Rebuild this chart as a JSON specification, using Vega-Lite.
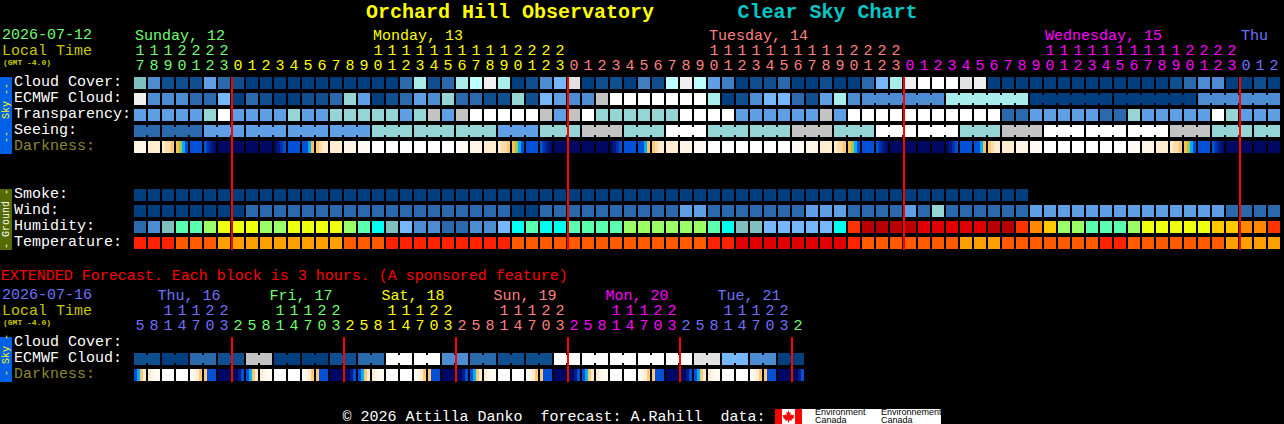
{"$schema":"https://vega.github.io/schema/vega-lite/v6.json",
"width":1284,"height":424,"padding":0,"autosize":{"type":"fit","contains":"padding"},"background":"#000000",
"config":{"view":{"stroke":null},"axis":{"disable":true},"text":{"font":"Liberation Mono","fontSize":15,"baseline":"middle"}},
"datasets":{
"cells":[
{"row":"Cloud","slot":0,"level":"c6"},{"row":"Cloud","slot":1,"level":"c3"},{"row":"Cloud","slot":2,"level":"c1"},{"row":"Cloud","slot":3,"level":"c1"},{"row":"Cloud","slot":4,"level":"c1"},{"row":"Cloud","slot":5,"level":"c4"},{"row":"Cloud","slot":6,"level":"c2"},{"row":"Cloud","slot":7,"level":"c1"},{"row":"Cloud","slot":8,"level":"c0"},{"row":"Cloud","slot":9,"level":"c0"},
{"row":"Cloud","slot":10,"level":"c0"},{"row":"Cloud","slot":11,"level":"c0"},{"row":"Cloud","slot":12,"level":"c0"},{"row":"Cloud","slot":13,"level":"c0"},{"row":"Cloud","slot":14,"level":"c0"},{"row":"Cloud","slot":15,"level":"c0"},{"row":"Cloud","slot":16,"level":"c0"},{"row":"Cloud","slot":17,"level":"c0"},{"row":"Cloud","slot":18,"level":"c0"},{"row":"Cloud","slot":19,"level":"c2"},
{"row":"Cloud","slot":20,"level":"c8"},{"row":"Cloud","slot":21,"level":"c1"},{"row":"Cloud","slot":22,"level":"c2"},{"row":"Cloud","slot":23,"level":"c8"},{"row":"Cloud","slot":24,"level":"c9"},{"row":"Cloud","slot":25,"level":"c12"},{"row":"Cloud","slot":26,"level":"c8"},{"row":"Cloud","slot":27,"level":"c0"},{"row":"Cloud","slot":28,"level":"c1"},{"row":"Cloud","slot":29,"level":"c3"},
{"row":"Cloud","slot":30,"level":"c5"},{"row":"Cloud","slot":31,"level":"c11"},{"row":"Cloud","slot":32,"level":"c0"},{"row":"Cloud","slot":33,"level":"c1"},{"row":"Cloud","slot":34,"level":"c1"},{"row":"Cloud","slot":35,"level":"c0"},{"row":"Cloud","slot":36,"level":"c14"},{"row":"Cloud","slot":37,"level":"c1"},{"row":"Cloud","slot":38,"level":"c9"},{"row":"Cloud","slot":39,"level":"c12"},
{"row":"Cloud","slot":40,"level":"c9"},{"row":"Cloud","slot":41,"level":"c4"},{"row":"Cloud","slot":42,"level":"c14"},{"row":"Cloud","slot":43,"level":"c0"},{"row":"Cloud","slot":44,"level":"c1"},{"row":"Cloud","slot":45,"level":"c1"},{"row":"Cloud","slot":46,"level":"c2"},{"row":"Cloud","slot":47,"level":"c0"},{"row":"Cloud","slot":48,"level":"c0"},{"row":"Cloud","slot":49,"level":"c1"},
{"row":"Cloud","slot":50,"level":"c0"},{"row":"Cloud","slot":51,"level":"c0"},{"row":"Cloud","slot":52,"level":"c2"},{"row":"Cloud","slot":53,"level":"c5"},{"row":"Cloud","slot":54,"level":"c8"},{"row":"Cloud","slot":55,"level":"c12"},{"row":"Cloud","slot":56,"level":"c13"},{"row":"Cloud","slot":57,"level":"c13"},{"row":"Cloud","slot":58,"level":"c13"},{"row":"Cloud","slot":59,"level":"c11"},
{"row":"Cloud","slot":60,"level":"c12"},{"row":"Cloud","slot":61,"level":"c0"},{"row":"Cloud","slot":62,"level":"c0"},{"row":"Cloud","slot":63,"level":"c0"},{"row":"Cloud","slot":64,"level":"c0"},{"row":"Cloud","slot":65,"level":"c0"},{"row":"Cloud","slot":66,"level":"c0"},{"row":"Cloud","slot":67,"level":"c0"},{"row":"Cloud","slot":68,"level":"c0"},{"row":"Cloud","slot":69,"level":"c0"},
{"row":"Cloud","slot":70,"level":"c0"},{"row":"Cloud","slot":71,"level":"c0"},{"row":"Cloud","slot":72,"level":"c0"},{"row":"Cloud","slot":73,"level":"c0"},{"row":"Cloud","slot":74,"level":"c1"},{"row":"Cloud","slot":75,"level":"c2"},{"row":"Cloud","slot":76,"level":"c3"},{"row":"Cloud","slot":77,"level":"c3"},{"row":"Cloud","slot":78,"level":"c0"},{"row":"Cloud","slot":79,"level":"c0"},{"row":"Cloud","slot":80,"level":"c1"},{"row":"Cloud","slot":81,"level":"c0"},
{"row":"ECMWF","slot":0,"level":"c12"},{"row":"ECMWF","slot":1,"level":"c3"},{"row":"ECMWF","slot":2,"level":"c3"},{"row":"ECMWF","slot":3,"level":"c3"},{"row":"ECMWF","slot":4,"level":"c2"},{"row":"ECMWF","slot":5,"level":"c2"},{"row":"ECMWF","slot":6,"level":"c5"},{"row":"ECMWF","slot":7,"level":"c0"},{"row":"ECMWF","slot":8,"level":"c2"},{"row":"ECMWF","slot":9,"level":"c1"},
{"row":"ECMWF","slot":10,"level":"c0"},{"row":"ECMWF","slot":11,"level":"c0"},{"row":"ECMWF","slot":12,"level":"c1"},{"row":"ECMWF","slot":13,"level":"c1"},{"row":"ECMWF","slot":14,"level":"c2"},{"row":"ECMWF","slot":15,"level":"c7"},{"row":"ECMWF","slot":16,"level":"c4"},{"row":"ECMWF","slot":17,"level":"c0"},{"row":"ECMWF","slot":18,"level":"c1"},{"row":"ECMWF","slot":19,"level":"c2"},
{"row":"ECMWF","slot":20,"level":"c4"},{"row":"ECMWF","slot":21,"level":"c3"},{"row":"ECMWF","slot":22,"level":"c7"},{"row":"ECMWF","slot":23,"level":"c2"},{"row":"ECMWF","slot":24,"level":"c2"},{"row":"ECMWF","slot":25,"level":"c1"},{"row":"ECMWF","slot":26,"level":"c1"},{"row":"ECMWF","slot":27,"level":"c7"},{"row":"ECMWF","slot":28,"level":"c1"},{"row":"ECMWF","slot":29,"level":"c5"},
{"row":"ECMWF","slot":30,"level":"c4"},{"row":"ECMWF","slot":31,"level":"c3"},{"row":"ECMWF","slot":32,"level":"c3"},{"row":"ECMWF","slot":33,"level":"c10"},{"row":"ECMWF","slot":34,"level":"c13"},{"row":"ECMWF","slot":35,"level":"c13"},{"row":"ECMWF","slot":36,"level":"c13"},{"row":"ECMWF","slot":37,"level":"c13"},{"row":"ECMWF","slot":38,"level":"c13"},{"row":"ECMWF","slot":39,"level":"c13"},
{"row":"ECMWF","slot":40,"level":"c13"},{"row":"ECMWF","slot":41,"level":"c8"},{"row":"ECMWF","slot":42,"level":"c0"},{"row":"ECMWF","slot":43,"level":"c1"},{"row":"ECMWF","slot":44,"level":"c3"},{"row":"ECMWF","slot":45,"level":"c5"},{"row":"ECMWF","slot":46,"level":"c5"},{"row":"ECMWF","slot":47,"level":"c2"},{"row":"ECMWF","slot":48,"level":"c1"},{"row":"ECMWF","slot":49,"level":"c4"},
{"row":"ECMWF","slot":50,"level":"c8"},{"row":"ECMWF","slot":51,"level":"c3"},{"row":"ECMWF","slot":52,"level":"c3","link":1},{"row":"ECMWF","slot":53,"level":"c3","link":1},{"row":"ECMWF","slot":54,"level":"c3","link":1},{"row":"ECMWF","slot":55,"level":"c3","link":1},{"row":"ECMWF","slot":56,"level":"c3","link":1},{"row":"ECMWF","slot":57,"level":"c3"},
{"row":"ECMWF","slot":58,"level":"c8","link":1},{"row":"ECMWF","slot":59,"level":"c8","link":1},{"row":"ECMWF","slot":60,"level":"c8","link":1},{"row":"ECMWF","slot":61,"level":"c8","link":1},{"row":"ECMWF","slot":62,"level":"c8","link":1},{"row":"ECMWF","slot":63,"level":"c8"},
{"row":"ECMWF","slot":64,"level":"c0","link":1},{"row":"ECMWF","slot":65,"level":"c0","link":1},{"row":"ECMWF","slot":66,"level":"c0","link":1},{"row":"ECMWF","slot":67,"level":"c0","link":1},{"row":"ECMWF","slot":68,"level":"c0","link":1},{"row":"ECMWF","slot":69,"level":"c0"},
{"row":"ECMWF","slot":70,"level":"c0","link":1},{"row":"ECMWF","slot":71,"level":"c0","link":1},{"row":"ECMWF","slot":72,"level":"c0","link":1},{"row":"ECMWF","slot":73,"level":"c0","link":1},{"row":"ECMWF","slot":74,"level":"c0","link":1},{"row":"ECMWF","slot":75,"level":"c0"},
{"row":"ECMWF","slot":76,"level":"c3","link":1},{"row":"ECMWF","slot":77,"level":"c3","link":1},{"row":"ECMWF","slot":78,"level":"c3","link":1},{"row":"ECMWF","slot":79,"level":"c3","link":1},{"row":"ECMWF","slot":80,"level":"c3","link":1},{"row":"ECMWF","slot":81,"level":"c3"},
{"row":"Transp","slot":0,"level":"c4"},{"row":"Transp","slot":1,"level":"c4"},{"row":"Transp","slot":2,"level":"c4"},{"row":"Transp","slot":3,"level":"c4"},{"row":"Transp","slot":4,"level":"c4"},{"row":"Transp","slot":5,"level":"c7"},{"row":"Transp","slot":6,"level":"c13"},{"row":"Transp","slot":7,"level":"c4"},{"row":"Transp","slot":8,"level":"c4"},{"row":"Transp","slot":9,"level":"c4"},
{"row":"Transp","slot":10,"level":"c4"},{"row":"Transp","slot":11,"level":"c7"},{"row":"Transp","slot":12,"level":"c4"},{"row":"Transp","slot":13,"level":"c4"},{"row":"Transp","slot":14,"level":"c7"},{"row":"Transp","slot":15,"level":"c7"},{"row":"Transp","slot":16,"level":"c7"},{"row":"Transp","slot":17,"level":"c7"},{"row":"Transp","slot":18,"level":"c7"},{"row":"Transp","slot":19,"level":"c4"},
{"row":"Transp","slot":20,"level":"c7"},{"row":"Transp","slot":21,"level":"c10"},{"row":"Transp","slot":22,"level":"c4"},{"row":"Transp","slot":23,"level":"c10"},{"row":"Transp","slot":24,"level":"c13"},{"row":"Transp","slot":25,"level":"c13"},{"row":"Transp","slot":26,"level":"c13"},{"row":"Transp","slot":27,"level":"c13"},{"row":"Transp","slot":28,"level":"c13"},{"row":"Transp","slot":29,"level":"c10"},
{"row":"Transp","slot":30,"level":"c4"},{"row":"Transp","slot":31,"level":"c10"},{"row":"Transp","slot":32,"level":"c13"},{"row":"Transp","slot":33,"level":"c7"},{"row":"Transp","slot":34,"level":"c7"},{"row":"Transp","slot":35,"level":"c7"},{"row":"Transp","slot":36,"level":"c7"},{"row":"Transp","slot":37,"level":"c7"},{"row":"Transp","slot":38,"level":"c7"},{"row":"Transp","slot":39,"level":"c13"},
{"row":"Transp","slot":40,"level":"c13"},{"row":"Transp","slot":41,"level":"c13"},{"row":"Transp","slot":42,"level":"c13"},{"row":"Transp","slot":43,"level":"c4"},{"row":"Transp","slot":44,"level":"c4"},{"row":"Transp","slot":45,"level":"c4"},{"row":"Transp","slot":46,"level":"c4"},{"row":"Transp","slot":47,"level":"c4"},{"row":"Transp","slot":48,"level":"c4"},{"row":"Transp","slot":49,"level":"c10"},
{"row":"Transp","slot":50,"level":"c4"},{"row":"Transp","slot":51,"level":"c13"},{"row":"Transp","slot":52,"level":"c13"},{"row":"Transp","slot":53,"level":"c13"},{"row":"Transp","slot":54,"level":"c13"},{"row":"Transp","slot":55,"level":"c13"},{"row":"Transp","slot":56,"level":"c13"},{"row":"Transp","slot":57,"level":"c13"},{"row":"Transp","slot":58,"level":"c13"},{"row":"Transp","slot":59,"level":"c13"},
{"row":"Transp","slot":60,"level":"c13"},{"row":"Transp","slot":61,"level":"c13"},{"row":"Transp","slot":62,"level":"c2"},{"row":"Transp","slot":63,"level":"c2"},{"row":"Transp","slot":64,"level":"c4"},{"row":"Transp","slot":65,"level":"c4"},{"row":"Transp","slot":66,"level":"c4"},{"row":"Transp","slot":67,"level":"c4"},{"row":"Transp","slot":68,"level":"c4"},{"row":"Transp","slot":69,"level":"c2"},
{"row":"Transp","slot":70,"level":"c2"},{"row":"Transp","slot":71,"level":"c7"},{"row":"Transp","slot":72,"level":"c4"},{"row":"Transp","slot":73,"level":"c4"},{"row":"Transp","slot":74,"level":"c4"},{"row":"Transp","slot":75,"level":"c4"},{"row":"Transp","slot":76,"level":"c4"},{"row":"Transp","slot":77,"level":"c13"},{"row":"Transp","slot":78,"level":"c7"},{"row":"Transp","slot":79,"level":"c4"},{"row":"Transp","slot":80,"level":"c4"},{"row":"Transp","slot":81,"level":"c4"},
{"row":"Seeing","slot":0,"level":"c2","link":1},{"row":"Seeing","slot":1,"level":"c2"},{"row":"Seeing","slot":2,"level":"c2","link":1},{"row":"Seeing","slot":3,"level":"c2","link":1},{"row":"Seeing","slot":4,"level":"c2"},{"row":"Seeing","slot":5,"level":"c4","link":1},{"row":"Seeing","slot":6,"level":"c4","link":1},{"row":"Seeing","slot":7,"level":"c4"},{"row":"Seeing","slot":8,"level":"c4","link":1},{"row":"Seeing","slot":9,"level":"c4","link":1},{"row":"Seeing","slot":10,"level":"c4"},
{"row":"Seeing","slot":11,"level":"c4","link":1},{"row":"Seeing","slot":12,"level":"c4","link":1},{"row":"Seeing","slot":13,"level":"c4"},{"row":"Seeing","slot":14,"level":"c4","link":1},{"row":"Seeing","slot":15,"level":"c4","link":1},{"row":"Seeing","slot":16,"level":"c4"},{"row":"Seeing","slot":17,"level":"c7","link":1},{"row":"Seeing","slot":18,"level":"c7","link":1},{"row":"Seeing","slot":19,"level":"c7"},
{"row":"Seeing","slot":20,"level":"c7","link":1},{"row":"Seeing","slot":21,"level":"c7","link":1},{"row":"Seeing","slot":22,"level":"c7"},{"row":"Seeing","slot":23,"level":"c7","link":1},{"row":"Seeing","slot":24,"level":"c7","link":1},{"row":"Seeing","slot":25,"level":"c7"},{"row":"Seeing","slot":26,"level":"c4","link":1},{"row":"Seeing","slot":27,"level":"c4","link":1},{"row":"Seeing","slot":28,"level":"c4"},
{"row":"Seeing","slot":29,"level":"c7","link":1},{"row":"Seeing","slot":30,"level":"c7","link":1},{"row":"Seeing","slot":31,"level":"c7"},{"row":"Seeing","slot":32,"level":"c10","link":1},{"row":"Seeing","slot":33,"level":"c10","link":1},{"row":"Seeing","slot":34,"level":"c10"},{"row":"Seeing","slot":35,"level":"c7","link":1},{"row":"Seeing","slot":36,"level":"c7","link":1},{"row":"Seeing","slot":37,"level":"c7"},
{"row":"Seeing","slot":38,"level":"c13","link":1},{"row":"Seeing","slot":39,"level":"c13","link":1},{"row":"Seeing","slot":40,"level":"c13"},{"row":"Seeing","slot":41,"level":"c7","link":1},{"row":"Seeing","slot":42,"level":"c7","link":1},{"row":"Seeing","slot":43,"level":"c7"},{"row":"Seeing","slot":44,"level":"c7","link":1},{"row":"Seeing","slot":45,"level":"c7","link":1},{"row":"Seeing","slot":46,"level":"c7"},
{"row":"Seeing","slot":47,"level":"c10","link":1},{"row":"Seeing","slot":48,"level":"c10","link":1},{"row":"Seeing","slot":49,"level":"c10"},{"row":"Seeing","slot":50,"level":"c7","link":1},{"row":"Seeing","slot":51,"level":"c7","link":1},{"row":"Seeing","slot":52,"level":"c7"},{"row":"Seeing","slot":53,"level":"c13","link":1},{"row":"Seeing","slot":54,"level":"c13","link":1},{"row":"Seeing","slot":55,"level":"c13"},
{"row":"Seeing","slot":56,"level":"c13","link":1},{"row":"Seeing","slot":57,"level":"c13","link":1},{"row":"Seeing","slot":58,"level":"c13"},{"row":"Seeing","slot":59,"level":"c7","link":1},{"row":"Seeing","slot":60,"level":"c7","link":1},{"row":"Seeing","slot":61,"level":"c7"},{"row":"Seeing","slot":62,"level":"c10","link":1},{"row":"Seeing","slot":63,"level":"c10","link":1},{"row":"Seeing","slot":64,"level":"c10"},
{"row":"Seeing","slot":65,"level":"c13","link":1},{"row":"Seeing","slot":66,"level":"c13","link":1},{"row":"Seeing","slot":67,"level":"c13"},{"row":"Seeing","slot":68,"level":"c13","link":1},{"row":"Seeing","slot":69,"level":"c13","link":1},{"row":"Seeing","slot":70,"level":"c13"},{"row":"Seeing","slot":71,"level":"c13","link":1},{"row":"Seeing","slot":72,"level":"c13","link":1},{"row":"Seeing","slot":73,"level":"c13"},
{"row":"Seeing","slot":74,"level":"c10","link":1},{"row":"Seeing","slot":75,"level":"c10","link":1},{"row":"Seeing","slot":76,"level":"c10"},{"row":"Seeing","slot":77,"level":"c7","link":1},{"row":"Seeing","slot":78,"level":"c7","link":1},{"row":"Seeing","slot":79,"level":"c7"},{"row":"Seeing","slot":80,"level":"c7","link":1},{"row":"Seeing","slot":81,"level":"c7"},
{"row":"Dark","slot":0,"level":"d2"},{"row":"Dark","slot":1,"level":"d3"},{"row":"Dark","slot":4,"level":"d9"},{"row":"Dark","slot":6,"level":"d13"},{"row":"Dark","slot":7,"level":"d13"},{"row":"Dark","slot":8,"level":"d13"},{"row":"Dark","slot":9,"level":"d13"},{"row":"Dark","slot":11,"level":"d9"},{"row":"Dark","slot":14,"level":"d3"},{"row":"Dark","slot":15,"level":"d2"},{"row":"Dark","slot":16,"level":"d1"},
{"row":"Dark","slot":17,"level":"d0"},{"row":"Dark","slot":18,"level":"d0"},{"row":"Dark","slot":19,"level":"d0"},{"row":"Dark","slot":20,"level":"d0"},{"row":"Dark","slot":21,"level":"d0"},{"row":"Dark","slot":22,"level":"d0"},{"row":"Dark","slot":23,"level":"d1"},{"row":"Dark","slot":24,"level":"d2"},{"row":"Dark","slot":25,"level":"d3"},{"row":"Dark","slot":28,"level":"d9"},{"row":"Dark","slot":30,"level":"d13"},{"row":"Dark","slot":31,"level":"d13"},{"row":"Dark","slot":32,"level":"d13"},{"row":"Dark","slot":33,"level":"d13"},{"row":"Dark","slot":35,"level":"d9"},{"row":"Dark","slot":38,"level":"d3"},{"row":"Dark","slot":39,"level":"d2"},{"row":"Dark","slot":40,"level":"d1"},
{"row":"Dark","slot":41,"level":"d0"},{"row":"Dark","slot":42,"level":"d0"},{"row":"Dark","slot":43,"level":"d0"},{"row":"Dark","slot":44,"level":"d0"},{"row":"Dark","slot":45,"level":"d0"},{"row":"Dark","slot":46,"level":"d0"},{"row":"Dark","slot":47,"level":"d1"},{"row":"Dark","slot":48,"level":"d2"},{"row":"Dark","slot":49,"level":"d3"},{"row":"Dark","slot":52,"level":"d9"},{"row":"Dark","slot":54,"level":"d13"},{"row":"Dark","slot":55,"level":"d13"},{"row":"Dark","slot":56,"level":"d13"},{"row":"Dark","slot":57,"level":"d13"},{"row":"Dark","slot":59,"level":"d9"},{"row":"Dark","slot":62,"level":"d3"},{"row":"Dark","slot":63,"level":"d2"},{"row":"Dark","slot":64,"level":"d1"},
{"row":"Dark","slot":65,"level":"d0"},{"row":"Dark","slot":66,"level":"d0"},{"row":"Dark","slot":67,"level":"d0"},{"row":"Dark","slot":68,"level":"d0"},{"row":"Dark","slot":69,"level":"d0"},{"row":"Dark","slot":70,"level":"d0"},{"row":"Dark","slot":71,"level":"d1"},{"row":"Dark","slot":72,"level":"d2"},{"row":"Dark","slot":73,"level":"d3"},{"row":"Dark","slot":76,"level":"d9"},{"row":"Dark","slot":78,"level":"d13"},{"row":"Dark","slot":79,"level":"d13"},{"row":"Dark","slot":80,"level":"d13"},{"row":"Dark","slot":81,"level":"d13"},
{"row":"Smoke","slot":0,"level":"c0"},{"row":"Smoke","slot":1,"level":"c0"},{"row":"Smoke","slot":2,"level":"c0"},{"row":"Smoke","slot":3,"level":"c0"},{"row":"Smoke","slot":4,"level":"c0"},{"row":"Smoke","slot":5,"level":"c0"},{"row":"Smoke","slot":6,"level":"c0"},{"row":"Smoke","slot":7,"level":"c0"},{"row":"Smoke","slot":8,"level":"c0"},{"row":"Smoke","slot":9,"level":"c0"},
{"row":"Smoke","slot":10,"level":"c0"},{"row":"Smoke","slot":11,"level":"c0"},{"row":"Smoke","slot":12,"level":"c0"},{"row":"Smoke","slot":13,"level":"c0"},{"row":"Smoke","slot":14,"level":"c0"},{"row":"Smoke","slot":15,"level":"c0"},{"row":"Smoke","slot":16,"level":"c0"},{"row":"Smoke","slot":17,"level":"c0"},{"row":"Smoke","slot":18,"level":"c0"},{"row":"Smoke","slot":19,"level":"c0"},
{"row":"Smoke","slot":20,"level":"c0"},{"row":"Smoke","slot":21,"level":"c0"},{"row":"Smoke","slot":22,"level":"c0"},{"row":"Smoke","slot":23,"level":"c0"},{"row":"Smoke","slot":24,"level":"c0"},{"row":"Smoke","slot":25,"level":"c0"},{"row":"Smoke","slot":26,"level":"c0"},{"row":"Smoke","slot":27,"level":"c0"},{"row":"Smoke","slot":28,"level":"c0"},{"row":"Smoke","slot":29,"level":"c0"},
{"row":"Smoke","slot":30,"level":"c0"},{"row":"Smoke","slot":31,"level":"c0"},{"row":"Smoke","slot":32,"level":"c0"},{"row":"Smoke","slot":33,"level":"c0"},{"row":"Smoke","slot":34,"level":"c0"},{"row":"Smoke","slot":35,"level":"c0"},{"row":"Smoke","slot":36,"level":"c0"},{"row":"Smoke","slot":37,"level":"c0"},{"row":"Smoke","slot":38,"level":"c0"},{"row":"Smoke","slot":39,"level":"c0"},
{"row":"Smoke","slot":40,"level":"c0"},{"row":"Smoke","slot":41,"level":"c0"},{"row":"Smoke","slot":42,"level":"c0"},{"row":"Smoke","slot":43,"level":"c0"},{"row":"Smoke","slot":44,"level":"c0"},{"row":"Smoke","slot":45,"level":"c0"},{"row":"Smoke","slot":46,"level":"c0"},{"row":"Smoke","slot":47,"level":"c0"},{"row":"Smoke","slot":48,"level":"c0"},{"row":"Smoke","slot":49,"level":"c0"},
{"row":"Smoke","slot":50,"level":"c0"},{"row":"Smoke","slot":51,"level":"c0"},{"row":"Smoke","slot":52,"level":"c0"},{"row":"Smoke","slot":53,"level":"c0"},{"row":"Smoke","slot":54,"level":"c0"},{"row":"Smoke","slot":55,"level":"c0"},{"row":"Smoke","slot":56,"level":"c0"},{"row":"Smoke","slot":57,"level":"c0"},{"row":"Smoke","slot":58,"level":"c0"},{"row":"Smoke","slot":59,"level":"c0"},
{"row":"Smoke","slot":60,"level":"c0"},{"row":"Smoke","slot":61,"level":"c0"},{"row":"Smoke","slot":62,"level":"c0"},{"row":"Smoke","slot":63,"level":"c0"},
{"row":"Wind","slot":0,"level":"c0"},{"row":"Wind","slot":1,"level":"c0"},{"row":"Wind","slot":2,"level":"c0"},{"row":"Wind","slot":3,"level":"c0"},{"row":"Wind","slot":4,"level":"c0"},{"row":"Wind","slot":5,"level":"c0"},{"row":"Wind","slot":6,"level":"c0"},{"row":"Wind","slot":7,"level":"c0"},{"row":"Wind","slot":8,"level":"c2"},{"row":"Wind","slot":9,"level":"c2"},
{"row":"Wind","slot":10,"level":"c2"},{"row":"Wind","slot":11,"level":"c2"},{"row":"Wind","slot":12,"level":"c2"},{"row":"Wind","slot":13,"level":"c2"},{"row":"Wind","slot":14,"level":"c2"},{"row":"Wind","slot":15,"level":"c2"},{"row":"Wind","slot":16,"level":"c2"},{"row":"Wind","slot":17,"level":"c2"},{"row":"Wind","slot":18,"level":"c2"},{"row":"Wind","slot":19,"level":"c2"},
{"row":"Wind","slot":20,"level":"c2"},{"row":"Wind","slot":21,"level":"c2"},{"row":"Wind","slot":22,"level":"c2"},{"row":"Wind","slot":23,"level":"c2"},{"row":"Wind","slot":24,"level":"c2"},{"row":"Wind","slot":25,"level":"c2"},{"row":"Wind","slot":26,"level":"c2"},{"row":"Wind","slot":27,"level":"c0"},{"row":"Wind","slot":28,"level":"c0"},{"row":"Wind","slot":29,"level":"c2"},
{"row":"Wind","slot":30,"level":"c2"},{"row":"Wind","slot":31,"level":"c2"},{"row":"Wind","slot":32,"level":"c2"},{"row":"Wind","slot":33,"level":"c2"},{"row":"Wind","slot":34,"level":"c2"},{"row":"Wind","slot":35,"level":"c2"},{"row":"Wind","slot":36,"level":"c2"},{"row":"Wind","slot":37,"level":"c2"},{"row":"Wind","slot":38,"level":"c2"},{"row":"Wind","slot":39,"level":"c4"},
{"row":"Wind","slot":40,"level":"c4"},{"row":"Wind","slot":41,"level":"c2"},{"row":"Wind","slot":42,"level":"c2"},{"row":"Wind","slot":43,"level":"c2"},{"row":"Wind","slot":44,"level":"c2"},{"row":"Wind","slot":45,"level":"c2"},{"row":"Wind","slot":46,"level":"c2"},{"row":"Wind","slot":47,"level":"c2"},{"row":"Wind","slot":48,"level":"c4"},{"row":"Wind","slot":49,"level":"c4"},
{"row":"Wind","slot":50,"level":"c4"},{"row":"Wind","slot":51,"level":"c2"},{"row":"Wind","slot":52,"level":"c2"},{"row":"Wind","slot":53,"level":"c2"},{"row":"Wind","slot":54,"level":"c2"},{"row":"Wind","slot":55,"level":"c4"},{"row":"Wind","slot":56,"level":"c2"},{"row":"Wind","slot":57,"level":"c7"},{"row":"Wind","slot":58,"level":"c2"},{"row":"Wind","slot":59,"level":"c2"},
{"row":"Wind","slot":60,"level":"c2"},{"row":"Wind","slot":61,"level":"c2"},{"row":"Wind","slot":62,"level":"c2"},{"row":"Wind","slot":63,"level":"c2"},{"row":"Wind","slot":64,"level":"c4"},{"row":"Wind","slot":65,"level":"c4"},{"row":"Wind","slot":66,"level":"c4"},{"row":"Wind","slot":67,"level":"c4"},{"row":"Wind","slot":68,"level":"c4"},{"row":"Wind","slot":69,"level":"c4"},
{"row":"Wind","slot":70,"level":"c4"},{"row":"Wind","slot":71,"level":"c4"},{"row":"Wind","slot":72,"level":"c4"},{"row":"Wind","slot":73,"level":"c4"},{"row":"Wind","slot":74,"level":"c4"},{"row":"Wind","slot":75,"level":"c4"},{"row":"Wind","slot":76,"level":"c4"},{"row":"Wind","slot":77,"level":"c4"},{"row":"Wind","slot":78,"level":"c2"},{"row":"Wind","slot":79,"level":"c2"},{"row":"Wind","slot":80,"level":"c2"},{"row":"Wind","slot":81,"level":"c2"},
{"row":"Humid","slot":0,"level":"c2"},{"row":"Humid","slot":1,"level":"c3"},{"row":"Humid","slot":2,"level":"c6"},{"row":"Humid","slot":3,"level":"h1"},{"row":"Humid","slot":4,"level":"h1"},{"row":"Humid","slot":5,"level":"h2"},{"row":"Humid","slot":6,"level":"h3"},{"row":"Humid","slot":7,"level":"h3"},{"row":"Humid","slot":8,"level":"h3"},{"row":"Humid","slot":9,"level":"h2"},
{"row":"Humid","slot":10,"level":"h2"},{"row":"Humid","slot":11,"level":"h3"},{"row":"Humid","slot":12,"level":"h3"},{"row":"Humid","slot":13,"level":"h3"},{"row":"Humid","slot":14,"level":"h3"},{"row":"Humid","slot":15,"level":"h2"},{"row":"Humid","slot":16,"level":"h1"},{"row":"Humid","slot":17,"level":"h4"},{"row":"Humid","slot":18,"level":"c6"},{"row":"Humid","slot":19,"level":"c5"},
{"row":"Humid","slot":20,"level":"c3"},{"row":"Humid","slot":21,"level":"c3"},{"row":"Humid","slot":22,"level":"c2"},{"row":"Humid","slot":23,"level":"c2"},{"row":"Humid","slot":24,"level":"c3"},{"row":"Humid","slot":25,"level":"c3"},{"row":"Humid","slot":26,"level":"c5"},{"row":"Humid","slot":27,"level":"h4"},{"row":"Humid","slot":28,"level":"h1"},{"row":"Humid","slot":29,"level":"h4"},
{"row":"Humid","slot":30,"level":"h4"},{"row":"Humid","slot":31,"level":"h1"},{"row":"Humid","slot":32,"level":"h1"},{"row":"Humid","slot":33,"level":"h1"},{"row":"Humid","slot":34,"level":"h1"},{"row":"Humid","slot":35,"level":"h2"},{"row":"Humid","slot":36,"level":"h2"},{"row":"Humid","slot":37,"level":"h2"},{"row":"Humid","slot":38,"level":"h2"},{"row":"Humid","slot":39,"level":"h2"},
{"row":"Humid","slot":40,"level":"h2"},{"row":"Humid","slot":41,"level":"h1"},{"row":"Humid","slot":42,"level":"h4"},{"row":"Humid","slot":43,"level":"c6"},{"row":"Humid","slot":44,"level":"c6"},{"row":"Humid","slot":45,"level":"c5"},{"row":"Humid","slot":46,"level":"c5"},{"row":"Humid","slot":47,"level":"c5"},{"row":"Humid","slot":48,"level":"c5"},{"row":"Humid","slot":49,"level":"c5"},
{"row":"Humid","slot":50,"level":"h4"},{"row":"Humid","slot":51,"level":"h7"},{"row":"Humid","slot":52,"level":"h9"},{"row":"Humid","slot":53,"level":"h9"},{"row":"Humid","slot":54,"level":"h9"},{"row":"Humid","slot":55,"level":"h9"},{"row":"Humid","slot":56,"level":"h8"},{"row":"Humid","slot":57,"level":"h8"},{"row":"Humid","slot":58,"level":"h8"},{"row":"Humid","slot":59,"level":"h8"},
{"row":"Humid","slot":60,"level":"h8"},{"row":"Humid","slot":61,"level":"h9"},{"row":"Humid","slot":62,"level":"h9"},{"row":"Humid","slot":63,"level":"h7"},{"row":"Humid","slot":64,"level":"h6"},{"row":"Humid","slot":65,"level":"h5"},{"row":"Humid","slot":66,"level":"h2"},{"row":"Humid","slot":67,"level":"h2"},{"row":"Humid","slot":68,"level":"h1"},{"row":"Humid","slot":69,"level":"h1"},
{"row":"Humid","slot":70,"level":"h1"},{"row":"Humid","slot":71,"level":"h2"},{"row":"Humid","slot":72,"level":"h3"},{"row":"Humid","slot":73,"level":"h3"},{"row":"Humid","slot":74,"level":"h3"},{"row":"Humid","slot":75,"level":"h3"},{"row":"Humid","slot":76,"level":"h3"},{"row":"Humid","slot":77,"level":"h5"},{"row":"Humid","slot":78,"level":"h5"},{"row":"Humid","slot":79,"level":"h6"},{"row":"Humid","slot":80,"level":"h6"},{"row":"Humid","slot":81,"level":"h7"},
{"row":"Temp","slot":0,"level":"t1"},{"row":"Temp","slot":1,"level":"t1"},{"row":"Temp","slot":2,"level":"t1"},{"row":"Temp","slot":3,"level":"t2"},{"row":"Temp","slot":4,"level":"t2"},{"row":"Temp","slot":5,"level":"t2"},{"row":"Temp","slot":6,"level":"t3"},{"row":"Temp","slot":7,"level":"t3"},{"row":"Temp","slot":8,"level":"t3"},{"row":"Temp","slot":9,"level":"t3"},
{"row":"Temp","slot":10,"level":"t3"},{"row":"Temp","slot":11,"level":"t3"},{"row":"Temp","slot":12,"level":"t3"},{"row":"Temp","slot":13,"level":"t3"},{"row":"Temp","slot":14,"level":"t3"},{"row":"Temp","slot":15,"level":"t2"},{"row":"Temp","slot":16,"level":"t2"},{"row":"Temp","slot":17,"level":"t2"},{"row":"Temp","slot":18,"level":"t1"},{"row":"Temp","slot":19,"level":"t1"},
{"row":"Temp","slot":20,"level":"t1"},{"row":"Temp","slot":21,"level":"t1"},{"row":"Temp","slot":22,"level":"t1"},{"row":"Temp","slot":23,"level":"t1"},{"row":"Temp","slot":24,"level":"t1"},{"row":"Temp","slot":25,"level":"t1"},{"row":"Temp","slot":26,"level":"t1"},{"row":"Temp","slot":27,"level":"t2"},{"row":"Temp","slot":28,"level":"t2"},{"row":"Temp","slot":29,"level":"t2"},
{"row":"Temp","slot":30,"level":"t2"},{"row":"Temp","slot":31,"level":"t2"},{"row":"Temp","slot":32,"level":"t2"},{"row":"Temp","slot":33,"level":"t2"},{"row":"Temp","slot":34,"level":"t2"},{"row":"Temp","slot":35,"level":"t2"},{"row":"Temp","slot":36,"level":"t2"},{"row":"Temp","slot":37,"level":"t2"},{"row":"Temp","slot":38,"level":"t2"},{"row":"Temp","slot":39,"level":"t2"},
{"row":"Temp","slot":40,"level":"t2"},{"row":"Temp","slot":41,"level":"t1"},{"row":"Temp","slot":42,"level":"t1"},{"row":"Temp","slot":43,"level":"h8"},{"row":"Temp","slot":44,"level":"h8"},{"row":"Temp","slot":45,"level":"h8"},{"row":"Temp","slot":46,"level":"h8"},{"row":"Temp","slot":47,"level":"h8"},{"row":"Temp","slot":48,"level":"h8"},{"row":"Temp","slot":49,"level":"h8"},
{"row":"Temp","slot":50,"level":"h8"},{"row":"Temp","slot":51,"level":"t1"},{"row":"Temp","slot":52,"level":"t2"},{"row":"Temp","slot":53,"level":"t2"},{"row":"Temp","slot":54,"level":"t2"},{"row":"Temp","slot":55,"level":"t2"},{"row":"Temp","slot":56,"level":"t2"},{"row":"Temp","slot":57,"level":"t2"},{"row":"Temp","slot":58,"level":"t2"},{"row":"Temp","slot":59,"level":"t3"},
{"row":"Temp","slot":60,"level":"t3"},{"row":"Temp","slot":61,"level":"t3"},{"row":"Temp","slot":62,"level":"t2"},{"row":"Temp","slot":63,"level":"t2"},{"row":"Temp","slot":64,"level":"t2"},{"row":"Temp","slot":65,"level":"t2"},{"row":"Temp","slot":66,"level":"t2"},{"row":"Temp","slot":67,"level":"t2"},{"row":"Temp","slot":68,"level":"t2"},{"row":"Temp","slot":69,"level":"t1"},
{"row":"Temp","slot":70,"level":"t1"},{"row":"Temp","slot":71,"level":"t2"},{"row":"Temp","slot":72,"level":"t2"},{"row":"Temp","slot":73,"level":"t2"},{"row":"Temp","slot":74,"level":"t2"},{"row":"Temp","slot":75,"level":"t2"},{"row":"Temp","slot":76,"level":"t2"},{"row":"Temp","slot":77,"level":"t2"},{"row":"Temp","slot":78,"level":"t3"},{"row":"Temp","slot":79,"level":"t3"},{"row":"Temp","slot":80,"level":"t3"},{"row":"Temp","slot":81,"level":"t3"}
],
"strips":[
{"row":"Dark","slot":1.679,"level":"d3"},{"row":"Dark","slot":1.893,"level":"d4"},{"row":"Dark","slot":2.107,"level":"d4"},{"row":"Dark","slot":2.321,"level":"d5"},
{"row":"Dark","slot":2.679,"level":"d6"},{"row":"Dark","slot":2.893,"level":"d7"},{"row":"Dark","slot":3.107,"level":"d8"},{"row":"Dark","slot":3.321,"level":"d9"},
{"row":"Dark","slot":4.679,"level":"d9"},{"row":"Dark","slot":4.893,"level":"d10"},{"row":"Dark","slot":5.107,"level":"d11"},{"row":"Dark","slot":5.321,"level":"d12"},
{"row":"Dark","slot":9.679,"level":"d13"},{"row":"Dark","slot":9.893,"level":"d11"},{"row":"Dark","slot":10.107,"level":"d10"},{"row":"Dark","slot":10.321,"level":"d9"},
{"row":"Dark","slot":11.679,"level":"d9"},{"row":"Dark","slot":11.893,"level":"d9"},{"row":"Dark","slot":12.107,"level":"d8"},{"row":"Dark","slot":12.321,"level":"d6"},
{"row":"Dark","slot":12.679,"level":"d5"},{"row":"Dark","slot":12.893,"level":"d4"},{"row":"Dark","slot":13.107,"level":"d3"},{"row":"Dark","slot":13.321,"level":"d3"},
{"row":"Dark","slot":25.679,"level":"d3"},{"row":"Dark","slot":25.893,"level":"d4"},{"row":"Dark","slot":26.107,"level":"d4"},{"row":"Dark","slot":26.321,"level":"d5"},
{"row":"Dark","slot":26.679,"level":"d6"},{"row":"Dark","slot":26.893,"level":"d7"},{"row":"Dark","slot":27.107,"level":"d8"},{"row":"Dark","slot":27.321,"level":"d9"},
{"row":"Dark","slot":28.679,"level":"d9"},{"row":"Dark","slot":28.893,"level":"d10"},{"row":"Dark","slot":29.107,"level":"d11"},{"row":"Dark","slot":29.321,"level":"d12"},
{"row":"Dark","slot":33.679,"level":"d13"},{"row":"Dark","slot":33.893,"level":"d11"},{"row":"Dark","slot":34.107,"level":"d10"},{"row":"Dark","slot":34.321,"level":"d9"},
{"row":"Dark","slot":35.679,"level":"d9"},{"row":"Dark","slot":35.893,"level":"d9"},{"row":"Dark","slot":36.107,"level":"d8"},{"row":"Dark","slot":36.321,"level":"d6"},
{"row":"Dark","slot":36.679,"level":"d5"},{"row":"Dark","slot":36.893,"level":"d4"},{"row":"Dark","slot":37.107,"level":"d3"},{"row":"Dark","slot":37.321,"level":"d3"},
{"row":"Dark","slot":49.679,"level":"d3"},{"row":"Dark","slot":49.893,"level":"d4"},{"row":"Dark","slot":50.107,"level":"d4"},{"row":"Dark","slot":50.321,"level":"d5"},
{"row":"Dark","slot":50.679,"level":"d6"},{"row":"Dark","slot":50.893,"level":"d7"},{"row":"Dark","slot":51.107,"level":"d8"},{"row":"Dark","slot":51.321,"level":"d9"},
{"row":"Dark","slot":52.679,"level":"d9"},{"row":"Dark","slot":52.893,"level":"d10"},{"row":"Dark","slot":53.107,"level":"d11"},{"row":"Dark","slot":53.321,"level":"d12"},
{"row":"Dark","slot":57.679,"level":"d13"},{"row":"Dark","slot":57.893,"level":"d11"},{"row":"Dark","slot":58.107,"level":"d10"},{"row":"Dark","slot":58.321,"level":"d9"},
{"row":"Dark","slot":59.679,"level":"d9"},{"row":"Dark","slot":59.893,"level":"d9"},{"row":"Dark","slot":60.107,"level":"d8"},{"row":"Dark","slot":60.321,"level":"d6"},
{"row":"Dark","slot":60.679,"level":"d5"},{"row":"Dark","slot":60.893,"level":"d4"},{"row":"Dark","slot":61.107,"level":"d3"},{"row":"Dark","slot":61.321,"level":"d3"},
{"row":"Dark","slot":73.679,"level":"d3"},{"row":"Dark","slot":73.893,"level":"d4"},{"row":"Dark","slot":74.107,"level":"d4"},{"row":"Dark","slot":74.321,"level":"d5"},
{"row":"Dark","slot":74.679,"level":"d6"},{"row":"Dark","slot":74.893,"level":"d7"},{"row":"Dark","slot":75.107,"level":"d8"},{"row":"Dark","slot":75.321,"level":"d9"},
{"row":"Dark","slot":76.679,"level":"d9"},{"row":"Dark","slot":76.893,"level":"d10"},{"row":"Dark","slot":77.107,"level":"d11"},{"row":"Dark","slot":77.321,"level":"d12"}
],
"xcells":[
{"row":"xECMWF","slot":0,"level":"c1","link":1},{"row":"xECMWF","slot":1,"level":"c1"},{"row":"xECMWF","slot":2,"level":"c0","link":1},{"row":"xECMWF","slot":3,"level":"c0"},{"row":"xECMWF","slot":4,"level":"c2","link":1},{"row":"xECMWF","slot":5,"level":"c2"},{"row":"xECMWF","slot":6,"level":"c1","link":1},{"row":"xECMWF","slot":7,"level":"c1"},
{"row":"xECMWF","slot":8,"level":"c10","link":1},{"row":"xECMWF","slot":9,"level":"c10"},{"row":"xECMWF","slot":10,"level":"c0","link":1},{"row":"xECMWF","slot":11,"level":"c0"},{"row":"xECMWF","slot":12,"level":"c0","link":1},{"row":"xECMWF","slot":13,"level":"c0"},{"row":"xECMWF","slot":14,"level":"c1","link":1},{"row":"xECMWF","slot":15,"level":"c1"},
{"row":"xECMWF","slot":16,"level":"c2","link":1},{"row":"xECMWF","slot":17,"level":"c2"},{"row":"xECMWF","slot":18,"level":"c13","link":1},{"row":"xECMWF","slot":19,"level":"c13"},{"row":"xECMWF","slot":20,"level":"c13","link":1},{"row":"xECMWF","slot":21,"level":"c13"},{"row":"xECMWF","slot":22,"level":"c3","link":1},{"row":"xECMWF","slot":23,"level":"c3"},
{"row":"xECMWF","slot":24,"level":"c2","link":1},{"row":"xECMWF","slot":25,"level":"c2"},{"row":"xECMWF","slot":26,"level":"c1","link":1},{"row":"xECMWF","slot":27,"level":"c1"},{"row":"xECMWF","slot":28,"level":"c1","link":1},{"row":"xECMWF","slot":29,"level":"c1"},{"row":"xECMWF","slot":30,"level":"c13","link":1},{"row":"xECMWF","slot":31,"level":"c13"},
{"row":"xECMWF","slot":32,"level":"c13","link":1},{"row":"xECMWF","slot":33,"level":"c13"},{"row":"xECMWF","slot":34,"level":"c13","link":1},{"row":"xECMWF","slot":35,"level":"c13"},{"row":"xECMWF","slot":36,"level":"c13","link":1},{"row":"xECMWF","slot":37,"level":"c13"},{"row":"xECMWF","slot":38,"level":"c13","link":1},{"row":"xECMWF","slot":39,"level":"c13"},
{"row":"xECMWF","slot":40,"level":"c11","link":1},{"row":"xECMWF","slot":41,"level":"c11"},{"row":"xECMWF","slot":42,"level":"c5","link":1},{"row":"xECMWF","slot":43,"level":"c5"},{"row":"xECMWF","slot":44,"level":"c3","link":1},{"row":"xECMWF","slot":45,"level":"c3"},{"row":"xECMWF","slot":46,"level":"c0","link":1},{"row":"xECMWF","slot":47,"level":"c0"},
{"row":"xDark","slot":2,"level":"d0"},{"row":"xDark","slot":3,"level":"d0"},{"row":"xDark","slot":6,"level":"d13"},{"row":"xDark","slot":10,"level":"d0"},{"row":"xDark","slot":11,"level":"d0"},{"row":"xDark","slot":14,"level":"d13"},{"row":"xDark","slot":18,"level":"d0"},{"row":"xDark","slot":19,"level":"d0"},{"row":"xDark","slot":22,"level":"d13"},{"row":"xDark","slot":26,"level":"d0"},{"row":"xDark","slot":27,"level":"d0"},{"row":"xDark","slot":30,"level":"d13"},{"row":"xDark","slot":34,"level":"d0"},{"row":"xDark","slot":35,"level":"d0"},{"row":"xDark","slot":38,"level":"d13"},{"row":"xDark","slot":42,"level":"d0"},{"row":"xDark","slot":43,"level":"d0"},{"row":"xDark","slot":46,"level":"d13"}
],
"xstrips":[
{"row":"xDark","slot":-0.321,"level":"d9"},{"row":"xDark","slot":-0.107,"level":"d8"},{"row":"xDark","slot":0.107,"level":"d5"},{"row":"xDark","slot":0.321,"level":"d3"},{"row":"xDark","slot":0.679,"level":"d3"},{"row":"xDark","slot":0.893,"level":"d2"},{"row":"xDark","slot":1.107,"level":"d1"},{"row":"xDark","slot":1.321,"level":"d1"},{"row":"xDark","slot":3.679,"level":"d1"},{"row":"xDark","slot":3.893,"level":"d2"},{"row":"xDark","slot":4.107,"level":"d3"},{"row":"xDark","slot":4.321,"level":"d5"},{"row":"xDark","slot":4.679,"level":"d5"},{"row":"xDark","slot":4.893,"level":"d9"},{"row":"xDark","slot":5.107,"level":"d9"},{"row":"xDark","slot":5.321,"level":"d9"},{"row":"xDark","slot":6.679,"level":"d13"},{"row":"xDark","slot":6.893,"level":"d13"},{"row":"xDark","slot":7.107,"level":"d11"},{"row":"xDark","slot":7.321,"level":"d9"},
{"row":"xDark","slot":7.679,"level":"d9"},{"row":"xDark","slot":7.893,"level":"d8"},{"row":"xDark","slot":8.107,"level":"d5"},{"row":"xDark","slot":8.321,"level":"d3"},{"row":"xDark","slot":8.679,"level":"d3"},{"row":"xDark","slot":8.893,"level":"d2"},{"row":"xDark","slot":9.107,"level":"d1"},{"row":"xDark","slot":9.321,"level":"d1"},{"row":"xDark","slot":11.679,"level":"d1"},{"row":"xDark","slot":11.893,"level":"d2"},{"row":"xDark","slot":12.107,"level":"d3"},{"row":"xDark","slot":12.321,"level":"d5"},{"row":"xDark","slot":12.679,"level":"d5"},{"row":"xDark","slot":12.893,"level":"d9"},{"row":"xDark","slot":13.107,"level":"d9"},{"row":"xDark","slot":13.321,"level":"d9"},{"row":"xDark","slot":14.679,"level":"d13"},{"row":"xDark","slot":14.893,"level":"d13"},{"row":"xDark","slot":15.107,"level":"d11"},{"row":"xDark","slot":15.321,"level":"d9"},
{"row":"xDark","slot":15.679,"level":"d9"},{"row":"xDark","slot":15.893,"level":"d8"},{"row":"xDark","slot":16.107,"level":"d5"},{"row":"xDark","slot":16.321,"level":"d3"},{"row":"xDark","slot":16.679,"level":"d3"},{"row":"xDark","slot":16.893,"level":"d2"},{"row":"xDark","slot":17.107,"level":"d1"},{"row":"xDark","slot":17.321,"level":"d1"},{"row":"xDark","slot":19.679,"level":"d1"},{"row":"xDark","slot":19.893,"level":"d2"},{"row":"xDark","slot":20.107,"level":"d3"},{"row":"xDark","slot":20.321,"level":"d5"},{"row":"xDark","slot":20.679,"level":"d5"},{"row":"xDark","slot":20.893,"level":"d9"},{"row":"xDark","slot":21.107,"level":"d9"},{"row":"xDark","slot":21.321,"level":"d9"},{"row":"xDark","slot":22.679,"level":"d13"},{"row":"xDark","slot":22.893,"level":"d13"},{"row":"xDark","slot":23.107,"level":"d11"},{"row":"xDark","slot":23.321,"level":"d9"},
{"row":"xDark","slot":23.679,"level":"d9"},{"row":"xDark","slot":23.893,"level":"d8"},{"row":"xDark","slot":24.107,"level":"d5"},{"row":"xDark","slot":24.321,"level":"d3"},{"row":"xDark","slot":24.679,"level":"d3"},{"row":"xDark","slot":24.893,"level":"d2"},{"row":"xDark","slot":25.107,"level":"d1"},{"row":"xDark","slot":25.321,"level":"d1"},{"row":"xDark","slot":27.679,"level":"d1"},{"row":"xDark","slot":27.893,"level":"d2"},{"row":"xDark","slot":28.107,"level":"d3"},{"row":"xDark","slot":28.321,"level":"d5"},{"row":"xDark","slot":28.679,"level":"d5"},{"row":"xDark","slot":28.893,"level":"d9"},{"row":"xDark","slot":29.107,"level":"d9"},{"row":"xDark","slot":29.321,"level":"d9"},{"row":"xDark","slot":30.679,"level":"d13"},{"row":"xDark","slot":30.893,"level":"d13"},{"row":"xDark","slot":31.107,"level":"d11"},{"row":"xDark","slot":31.321,"level":"d9"},
{"row":"xDark","slot":31.679,"level":"d9"},{"row":"xDark","slot":31.893,"level":"d8"},{"row":"xDark","slot":32.107,"level":"d5"},{"row":"xDark","slot":32.321,"level":"d3"},{"row":"xDark","slot":32.679,"level":"d3"},{"row":"xDark","slot":32.893,"level":"d2"},{"row":"xDark","slot":33.107,"level":"d1"},{"row":"xDark","slot":33.321,"level":"d1"},{"row":"xDark","slot":35.679,"level":"d1"},{"row":"xDark","slot":35.893,"level":"d2"},{"row":"xDark","slot":36.107,"level":"d3"},{"row":"xDark","slot":36.321,"level":"d5"},{"row":"xDark","slot":36.679,"level":"d5"},{"row":"xDark","slot":36.893,"level":"d9"},{"row":"xDark","slot":37.107,"level":"d9"},{"row":"xDark","slot":37.321,"level":"d9"},{"row":"xDark","slot":38.679,"level":"d13"},{"row":"xDark","slot":38.893,"level":"d13"},{"row":"xDark","slot":39.107,"level":"d11"},{"row":"xDark","slot":39.321,"level":"d9"},
{"row":"xDark","slot":39.679,"level":"d9"},{"row":"xDark","slot":39.893,"level":"d8"},{"row":"xDark","slot":40.107,"level":"d5"},{"row":"xDark","slot":40.321,"level":"d3"},{"row":"xDark","slot":40.679,"level":"d3"},{"row":"xDark","slot":40.893,"level":"d2"},{"row":"xDark","slot":41.107,"level":"d1"},{"row":"xDark","slot":41.321,"level":"d1"},{"row":"xDark","slot":43.679,"level":"d1"},{"row":"xDark","slot":43.893,"level":"d2"},{"row":"xDark","slot":44.107,"level":"d3"},{"row":"xDark","slot":44.321,"level":"d5"},{"row":"xDark","slot":44.679,"level":"d5"},{"row":"xDark","slot":44.893,"level":"d9"},{"row":"xDark","slot":45.107,"level":"d9"},{"row":"xDark","slot":45.321,"level":"d9"},{"row":"xDark","slot":46.679,"level":"d13"},{"row":"xDark","slot":46.893,"level":"d13"},{"row":"xDark","slot":47.107,"level":"d11"},{"row":"xDark","slot":47.321,"level":"d9"}
],
"hours":[
{"slot":0,"tens":"1","unit":"7","level":"Sun12"},{"slot":1,"tens":"1","unit":"8","level":"Sun12"},{"slot":2,"tens":"1","unit":"9","level":"Sun12"},{"slot":3,"tens":"2","unit":"0","level":"Sun12"},{"slot":4,"tens":"2","unit":"1","level":"Sun12"},{"slot":5,"tens":"2","unit":"2","level":"Sun12"},{"slot":6,"tens":"2","unit":"3","level":"Sun12"},
{"slot":7,"unit":"0","level":"Mon13"},{"slot":8,"unit":"1","level":"Mon13"},{"slot":9,"unit":"2","level":"Mon13"},{"slot":10,"unit":"3","level":"Mon13"},{"slot":11,"unit":"4","level":"Mon13"},{"slot":12,"unit":"5","level":"Mon13"},{"slot":13,"unit":"6","level":"Mon13"},{"slot":14,"unit":"7","level":"Mon13"},{"slot":15,"unit":"8","level":"Mon13"},{"slot":16,"unit":"9","level":"Mon13"},
{"slot":17,"tens":"1","unit":"0","level":"Mon13"},{"slot":18,"tens":"1","unit":"1","level":"Mon13"},{"slot":19,"tens":"1","unit":"2","level":"Mon13"},{"slot":20,"tens":"1","unit":"3","level":"Mon13"},{"slot":21,"tens":"1","unit":"4","level":"Mon13"},{"slot":22,"tens":"1","unit":"5","level":"Mon13"},{"slot":23,"tens":"1","unit":"6","level":"Mon13"},{"slot":24,"tens":"1","unit":"7","level":"Mon13"},{"slot":25,"tens":"1","unit":"8","level":"Mon13"},{"slot":26,"tens":"1","unit":"9","level":"Mon13"},{"slot":27,"tens":"2","unit":"0","level":"Mon13"},{"slot":28,"tens":"2","unit":"1","level":"Mon13"},{"slot":29,"tens":"2","unit":"2","level":"Mon13"},{"slot":30,"tens":"2","unit":"3","level":"Mon13"},
{"slot":31,"unit":"0","level":"Tue14"},{"slot":32,"unit":"1","level":"Tue14"},{"slot":33,"unit":"2","level":"Tue14"},{"slot":34,"unit":"3","level":"Tue14"},{"slot":35,"unit":"4","level":"Tue14"},{"slot":36,"unit":"5","level":"Tue14"},{"slot":37,"unit":"6","level":"Tue14"},{"slot":38,"unit":"7","level":"Tue14"},{"slot":39,"unit":"8","level":"Tue14"},{"slot":40,"unit":"9","level":"Tue14"},
{"slot":41,"tens":"1","unit":"0","level":"Tue14"},{"slot":42,"tens":"1","unit":"1","level":"Tue14"},{"slot":43,"tens":"1","unit":"2","level":"Tue14"},{"slot":44,"tens":"1","unit":"3","level":"Tue14"},{"slot":45,"tens":"1","unit":"4","level":"Tue14"},{"slot":46,"tens":"1","unit":"5","level":"Tue14"},{"slot":47,"tens":"1","unit":"6","level":"Tue14"},{"slot":48,"tens":"1","unit":"7","level":"Tue14"},{"slot":49,"tens":"1","unit":"8","level":"Tue14"},{"slot":50,"tens":"1","unit":"9","level":"Tue14"},{"slot":51,"tens":"2","unit":"0","level":"Tue14"},{"slot":52,"tens":"2","unit":"1","level":"Tue14"},{"slot":53,"tens":"2","unit":"2","level":"Tue14"},{"slot":54,"tens":"2","unit":"3","level":"Tue14"},
{"slot":55,"unit":"0","level":"Wed15"},{"slot":56,"unit":"1","level":"Wed15"},{"slot":57,"unit":"2","level":"Wed15"},{"slot":58,"unit":"3","level":"Wed15"},{"slot":59,"unit":"4","level":"Wed15"},{"slot":60,"unit":"5","level":"Wed15"},{"slot":61,"unit":"6","level":"Wed15"},{"slot":62,"unit":"7","level":"Wed15"},{"slot":63,"unit":"8","level":"Wed15"},{"slot":64,"unit":"9","level":"Wed15"},
{"slot":65,"tens":"1","unit":"0","level":"Wed15"},{"slot":66,"tens":"1","unit":"1","level":"Wed15"},{"slot":67,"tens":"1","unit":"2","level":"Wed15"},{"slot":68,"tens":"1","unit":"3","level":"Wed15"},{"slot":69,"tens":"1","unit":"4","level":"Wed15"},{"slot":70,"tens":"1","unit":"5","level":"Wed15"},{"slot":71,"tens":"1","unit":"6","level":"Wed15"},{"slot":72,"tens":"1","unit":"7","level":"Wed15"},{"slot":73,"tens":"1","unit":"8","level":"Wed15"},{"slot":74,"tens":"1","unit":"9","level":"Wed15"},{"slot":75,"tens":"2","unit":"0","level":"Wed15"},{"slot":76,"tens":"2","unit":"1","level":"Wed15"},{"slot":77,"tens":"2","unit":"2","level":"Wed15"},{"slot":78,"tens":"2","unit":"3","level":"Wed15"},
{"slot":79,"unit":"0","level":"Thu16"},{"slot":80,"unit":"1","level":"Thu16"},{"slot":81,"unit":"2","level":"Thu16"}
],
"xhours":[
{"slot":0,"unit":"5","level":"Thu16"},{"slot":1,"unit":"8","level":"Thu16"},{"slot":2,"tens":"1","unit":"1","level":"Thu16"},{"slot":3,"tens":"1","unit":"4","level":"Thu16"},{"slot":4,"tens":"1","unit":"7","level":"Thu16"},{"slot":5,"tens":"2","unit":"0","level":"Thu16"},{"slot":6,"tens":"2","unit":"3","level":"Thu16"},
{"slot":7,"unit":"2","level":"Fri17"},{"slot":8,"unit":"5","level":"Fri17"},{"slot":9,"unit":"8","level":"Fri17"},{"slot":10,"tens":"1","unit":"1","level":"Fri17"},{"slot":11,"tens":"1","unit":"4","level":"Fri17"},{"slot":12,"tens":"1","unit":"7","level":"Fri17"},{"slot":13,"tens":"2","unit":"0","level":"Fri17"},{"slot":14,"tens":"2","unit":"3","level":"Fri17"},
{"slot":15,"unit":"2","level":"Sat18"},{"slot":16,"unit":"5","level":"Sat18"},{"slot":17,"unit":"8","level":"Sat18"},{"slot":18,"tens":"1","unit":"1","level":"Sat18"},{"slot":19,"tens":"1","unit":"4","level":"Sat18"},{"slot":20,"tens":"1","unit":"7","level":"Sat18"},{"slot":21,"tens":"2","unit":"0","level":"Sat18"},{"slot":22,"tens":"2","unit":"3","level":"Sat18"},
{"slot":23,"unit":"2","level":"Sun19"},{"slot":24,"unit":"5","level":"Sun19"},{"slot":25,"unit":"8","level":"Sun19"},{"slot":26,"tens":"1","unit":"1","level":"Sun19"},{"slot":27,"tens":"1","unit":"4","level":"Sun19"},{"slot":28,"tens":"1","unit":"7","level":"Sun19"},{"slot":29,"tens":"2","unit":"0","level":"Sun19"},{"slot":30,"tens":"2","unit":"3","level":"Sun19"},
{"slot":31,"unit":"2","level":"Mon20"},{"slot":32,"unit":"5","level":"Mon20"},{"slot":33,"unit":"8","level":"Mon20"},{"slot":34,"tens":"1","unit":"1","level":"Mon20"},{"slot":35,"tens":"1","unit":"4","level":"Mon20"},{"slot":36,"tens":"1","unit":"7","level":"Mon20"},{"slot":37,"tens":"2","unit":"0","level":"Mon20"},{"slot":38,"tens":"2","unit":"3","level":"Mon20"},
{"slot":39,"unit":"2","level":"Tue21"},{"slot":40,"unit":"5","level":"Tue21"},{"slot":41,"unit":"8","level":"Tue21"},{"slot":42,"tens":"1","unit":"1","level":"Tue21"},{"slot":43,"tens":"1","unit":"4","level":"Tue21"},{"slot":44,"tens":"1","unit":"7","level":"Tue21"},{"slot":45,"tens":"2","unit":"0","level":"Tue21"},{"slot":46,"tens":"2","unit":"3","level":"Tue21"},
{"slot":47,"unit":"2","level":"Wed22"}
],
"days":[{"row":"day","slot":0,"text":"Sunday, 12","level":"Sun12"},{"row":"day","slot":17,"text":"Monday, 13","level":"Mon13"},{"row":"day","slot":41,"text":"Tuesday, 14","level":"Tue14"},{"row":"day","slot":65,"text":"Wednesday, 15","level":"Wed15"},{"row":"day","slot":79,"text":"Thu","level":"Thu16"}],
"xdays":[{"row":"xday","slot":3.5,"text":"Thu, 16","level":"Thu16"},{"row":"xday","slot":11.5,"text":"Fri, 17","level":"Fri17"},{"row":"xday","slot":19.5,"text":"Sat, 18","level":"Sat18"},{"row":"xday","slot":27.5,"text":"Sun, 19","level":"Sun19"},{"row":"xday","slot":35.5,"text":"Mon, 20","level":"Mon20"},{"row":"xday","slot":43.5,"text":"Tue, 21","level":"Tue21"}],
"names":[{"row":"Cloud","text":"Cloud Cover:","level":"label"},{"row":"ECMWF","text":"ECMWF Cloud:","level":"label"},{"row":"Transp","text":"Transparency:","level":"label"},{"row":"Seeing","text":"Seeing:","level":"label"},{"row":"Dark","text":"Darkness:","level":"dim"},{"row":"Smoke","text":"Smoke:","level":"label"},{"row":"Wind","text":"Wind:","level":"label"},{"row":"Humid","text":"Humidity:","level":"label"},{"row":"Temp","text":"Temperature:","level":"label"}],
"xnames":[{"row":"xCloud","text":"Cloud Cover:","level":"label"},{"row":"xECMWF","text":"ECMWF Cloud:","level":"label"},{"row":"xDark","text":"Darkness:","level":"dim"}],
"midnights":[{"slot":7,"from":"Cloud","to":"Temp"},{"slot":31,"from":"Cloud","to":"Temp"},{"slot":55,"from":"Cloud","to":"Temp"},{"slot":79,"from":"Cloud","to":"Temp"}],
"xmidnights":[{"slot":7,"from":"xCloud","to":"xDark"},{"slot":15,"from":"xCloud","to":"xDark"},{"slot":23,"from":"xCloud","to":"xDark"},{"slot":31,"from":"xCloud","to":"xDark"},{"slot":39,"from":"xCloud","to":"xDark"},{"slot":47,"from":"xCloud","to":"xDark"}]
},
"encoding":{
"y":{"field":"row","type":"ordinal","axis":null,"scale":{"domain":["title","gap1","day","tens","units","Cloud","ECMWF","Transp","Seeing","Dark","gap2","gap3","Smoke","Wind","Humid","Temp","gap4","note","xday","xtens","xunits","xCloud","xECMWF","xDark","gap5","gap6","footer"],"range":[-5,427],"paddingInner":0,"paddingOuter":0}},
"color":{"field":"level","type":"nominal","legend":null,"scale":{
"domain":["c0","c1","c2","c3","c4","c5","c6","c7","c8","c9","c10","c11","c12","c13","c14","h1","h2","h3","h4","h5","h6","h7","h8","h9","t1","t2","t3","d0","d1","d2","d3","d4","d5","d6","d7","d8","d9","d10","d11","d12","d13","Sun12","Mon13","Tue14","Wed15","Thu16","Fri17","Sat18","Sun19","Mon20","Tue21","Wed22","label","dim","time"],
"range":["#003f7f","#0f4f8f","#2a69ab","#4c8cd3","#5f9fe5","#76b6fa","#7fbfbf","#95d5d5","#a9ecec","#bdffff","#c3c3c3","#e2e2e2","#f0f0f0","#ffffff","#3f7fc2","#5affb0","#9aff66","#eeff10","#00fff0","#ffc800","#ff8800","#ff3300","#e00000","#b80000","#ff2200","#ff5a00","#ff9f00","#ffffff","#fffbf4","#fff5e6","#ffedd0","#ffdca8","#ffc878","#ffbf50","#a0c860","#00b0f0","#0050d8","#0030a8","#001c88","#000e74","#000864","#70ff70","#ffff00","#ff8080","#ff00ff","#7070ff","#70ff70","#ffff00","#ff8080","#ff00ff","#7070ff","#70ff70","#ffffff","#8a8a30","#c8c800"]}}
},
"layer":[
{"encoding":{"x":{"field":"slot","type":"quantitative","scale":{"domain":[-10,81.7142857],"nice":false,"zero":false}}},
"layer":[
{"data":{"name":"cells"},"mark":{"type":"rect","width":12,"height":12}},
{"data":{"name":"cells"},"transform":[{"filter":"datum.link"}],"mark":{"type":"rect","width":2,"height":8,"xOffset":7}},
{"data":{"name":"strips"},"mark":{"type":"rect","width":3,"height":12}},
{"data":{"name":"xcells"},"mark":{"type":"rect","width":12,"height":12,"yOffset":4}},
{"data":{"name":"xcells"},"transform":[{"filter":"datum.link"}],"mark":{"type":"rect","width":2,"height":8,"xOffset":7,"yOffset":4}},
{"data":{"name":"xstrips"},"mark":{"type":"rect","width":3,"height":12,"yOffset":4}},
{"data":{"name":"midnights"},"mark":{"type":"rule","strokeWidth":2,"xOffset":-6,"yOffset":-6,"y2Offset":7},"encoding":{"y":{"field":"from","type":"ordinal"},"y2":{"field":"to"},"color":{"value":"#ff0000"}}},
{"data":{"name":"xmidnights"},"mark":{"type":"rule","strokeWidth":2,"xOffset":-6,"yOffset":-2,"y2Offset":11},"encoding":{"y":{"field":"from","type":"ordinal"},"y2":{"field":"to"},"color":{"value":"#ff0000"}}},
{"data":{"name":"hours"},"transform":[{"filter":"datum.tens"}],"mark":{"type":"text","yOffset":-1},"encoding":{"y":{"datum":"tens","type":"ordinal"},"text":{"field":"tens"}}},
{"data":{"name":"hours"},"mark":{"type":"text","yOffset":-2},"encoding":{"y":{"datum":"units","type":"ordinal"},"text":{"field":"unit"}}},
{"data":{"name":"xhours"},"transform":[{"filter":"datum.tens"}],"mark":{"type":"text","yOffset":3},"encoding":{"y":{"datum":"xtens","type":"ordinal"},"text":{"field":"tens"}}},
{"data":{"name":"xhours"},"mark":{"type":"text","yOffset":2},"encoding":{"y":{"datum":"xunits","type":"ordinal"},"text":{"field":"unit"}}},
{"data":{"name":"days"},"mark":{"type":"text","align":"left","xOffset":-5},"encoding":{"text":{"field":"text"}}},
{"data":{"name":"xdays"},"mark":{"type":"text","align":"center","yOffset":4},"encoding":{"text":{"field":"text"}}}
]},
{"layer":[
{"data":{"values":[{"from":"Cloud","to":"Dark"}]},"mark":{"type":"rule","strokeWidth":12,"yOffset":-6,"y2Offset":7},"encoding":{"x":{"datum":-9.5714},"y":{"field":"from","type":"ordinal"},"y2":{"field":"to"},"color":{"value":"#0060e8"}}},
{"data":{"values":[{"from":"Smoke","to":"Temp"}]},"mark":{"type":"rule","strokeWidth":12,"yOffset":-6,"y2Offset":7},"encoding":{"x":{"datum":-9.5714},"y":{"field":"from","type":"ordinal"},"y2":{"field":"to"},"color":{"value":"#556b00"}}},
{"data":{"values":[{"from":"xCloud","to":"xDark"}]},"mark":{"type":"rule","strokeWidth":12,"yOffset":-2,"y2Offset":11},"encoding":{"x":{"datum":-9.5714},"y":{"field":"from","type":"ordinal"},"y2":{"field":"to"},"color":{"value":"#0060e8"}}},
{"data":{"values":[{"row":"Transp","text":"--\u00a0\u00a0Sky\u00a0--"}]},"mark":{"type":"text","angle":270,"fontSize":10,"align":"center","yOffset":-2},"encoding":{"x":{"datum":-9.5714},"text":{"field":"text"},"color":{"value":"#ffff00"}}},
{"data":{"values":[{"row":"Humid","text":"-\u00a0Ground\u00a0-"}]},"mark":{"type":"text","angle":270,"fontSize":10,"align":"center","yOffset":-8},"encoding":{"x":{"datum":-9.5714},"text":{"field":"text"},"color":{"value":"#ffffff"}}},
{"data":{"values":[{"row":"xECMWF","text":"-\u00a0Sky\u00a0-"}]},"mark":{"type":"text","angle":270,"fontSize":10,"align":"center"},"encoding":{"x":{"datum":-9.5714},"text":{"field":"text"},"color":{"value":"#ffff00"}}},
{"data":{"name":"names"},"mark":{"type":"text","align":"left","yOffset":-2},"encoding":{"x":{"datum":-9},"text":{"field":"text"}}},
{"data":{"name":"xnames"},"mark":{"type":"text","align":"left","yOffset":2},"encoding":{"x":{"datum":-9},"text":{"field":"text"}}},
{"data":{"values":[{"row":"day","text":"2026-07-12","level":"Sun12"},{"row":"tens","text":"Local Time","level":"time"}]},"mark":{"type":"text","align":"left","yOffset":-1.5},"encoding":{"x":{"datum":-9.857},"text":{"field":"text"}}},
{"data":{"values":[{"row":"xday","text":"2026-07-16","level":"Thu16"},{"row":"xtens","text":"Local Time","level":"time"}]},"mark":{"type":"text","align":"left","yOffset":2.5},"encoding":{"x":{"datum":-9.857},"text":{"field":"text"}}},
{"data":{"values":[{"row":"units","text":"(GMT -4.0)","level":"time"}]},"mark":{"type":"text","align":"left","fontSize":8,"fontWeight":"bold","yOffset":-4},"encoding":{"x":{"datum":-9.786},"text":{"field":"text"}}},
{"data":{"values":[{"row":"xunits","text":"(GMT -4.0)","level":"time"}]},"mark":{"type":"text","align":"left","fontSize":8,"fontWeight":"bold"},"encoding":{"x":{"datum":-9.786},"text":{"field":"text"}}},
{"data":{"values":[{"row":"note","text":"EXTENDED Forecast. Each block is 3 hours. (A sponsored feature)"}]},"mark":{"type":"text","align":"left"},"encoding":{"x":{"datum":-9.95},"text":{"field":"text"},"color":{"value":"#ff0000"}}},
{"data":{"values":[{"row":"title","text":"Orchard Hill Observatory"}]},"mark":{"type":"text","fontSize":20,"fontWeight":"bold","yOffset":9},"encoding":{"x":{"datum":26.43},"text":{"field":"text"},"color":{"value":"#ffff00"}}},
{"data":{"values":[{"row":"title","text":"Clear Sky Chart"}]},"mark":{"type":"text","fontSize":20,"fontWeight":"bold","yOffset":9},"encoding":{"x":{"datum":49.1},"text":{"field":"text"},"color":{"value":"#00c8c8"}}},
{"data":{"values":[{"row":"footer","text":"© 2026 Attilla Danko\u00a0\u00a0forecast: A.Rahill\u00a0\u00a0data:"}]},"mark":{"type":"text","yOffset":-3},"encoding":{"x":{"datum":29.57},"text":{"field":"text"},"color":{"value":"#ffffff"}}},
{"data":{"values":[{"row":"footer"}]},"mark":{"type":"rect","height":15,"yOffset":-2.5},"encoding":{"x":{"datum":45.357},"x2":{"datum":57.214},"color":{"value":"#ffffff"}}},
{"data":{"values":[{"row":"footer"}]},"mark":{"type":"rect","height":15,"yOffset":-2.5},"encoding":{"x":{"datum":45.357},"x2":{"datum":45.857},"color":{"value":"#ff0000"}}},
{"data":{"values":[{"row":"footer"}]},"mark":{"type":"rect","height":15,"yOffset":-2.5},"encoding":{"x":{"datum":46.786},"x2":{"datum":47.286},"color":{"value":"#ff0000"}}},
{"data":{"values":[{"row":"footer"}]},"mark":{"type":"point","filled":true,"size":140,"yOffset":-2.5,"opacity":1,"shape":"M0,-1L.2,-.6L.4,-.7L.3,-.15L.6,-.4L.7,-.2L1,-.25L.85,.1L.95,.2L.5,.55L.55,.7L.1,.65L.1,1L-.1,1L-.1,.65L-.55,.7L-.5,.55L-.95,.2L-.85,.1L-1,-.25L-.7,-.2L-.6,-.4L-.3,-.15L-.4,-.7L-.2,-.6Z"},"encoding":{"x":{"datum":46.32},"color":{"value":"#ff0000"}}},
{"data":{"values":[{"row":"footer","text":"Environment"}]},"mark":{"type":"text","font":"Liberation Sans","fontSize":9,"align":"left","yOffset":-7},"encoding":{"x":{"datum":48.21},"text":{"field":"text"},"color":{"value":"#000000"}}},
{"data":{"values":[{"row":"footer","text":"Canada"}]},"mark":{"type":"text","font":"Liberation Sans","fontSize":9,"align":"left","yOffset":1},"encoding":{"x":{"datum":48.21},"text":{"field":"text"},"color":{"value":"#000000"}}},
{"data":{"values":[{"row":"footer","text":"Environnement"}]},"mark":{"type":"text","font":"Liberation Sans","fontSize":9,"align":"left","yOffset":-7},"encoding":{"x":{"datum":52.93},"text":{"field":"text"},"color":{"value":"#000000"}}},
{"data":{"values":[{"row":"footer","text":"Canada"}]},"mark":{"type":"text","font":"Liberation Sans","fontSize":9,"align":"left","yOffset":1},"encoding":{"x":{"datum":52.93},"text":{"field":"text"},"color":{"value":"#000000"}}}
]}
]}
